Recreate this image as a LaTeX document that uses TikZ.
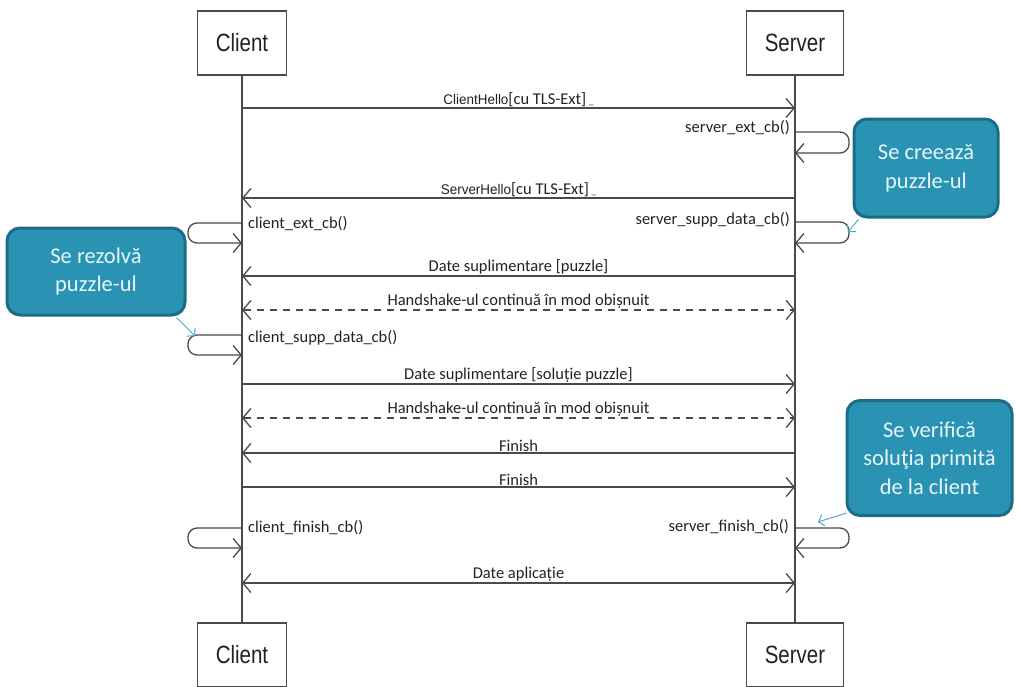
\documentclass[tikz,border=0pt]{standalone}
\usepackage{fontspec}
\setmainfont{Carlito}
\newfontfamily\boxfont[FakeStretch=0.82]{Liberation Sans}
\newfontfamily\hellofont[FakeStretch=0.96]{Liberation Sans}
\usetikzlibrary{arrows.meta,calc}
\definecolor{ink}{HTML}{222222}
\definecolor{wire}{HTML}{4A4A4A}
\definecolor{calfill}{HTML}{2A93B3}
\definecolor{caledge}{HTML}{1D6C86}
\definecolor{caltext}{HTML}{E6F6FA}
\definecolor{calarrow}{HTML}{4FAACA}
\tikzset{
  barb/.tip={Straight Barb[length=8pt,width=19pt]},
  actor/.style={draw=wire, line width=1.2pt, fill=white, minimum height=64pt,
    inner sep=0pt, text=ink, font=\boxfont\fontsize{25}{25}\selectfont},
  lifeline/.style={draw=wire, line width=1.1pt},
  msg/.style={draw=wire, line width=1.3pt, -barb},
  dmsg/.style={draw=wire, line width=1.3pt, barb-barb, dash pattern=on 7pt off 6pt},
  selfcall/.style={draw=wire, line width=1.3pt, rounded corners=9pt, -barb},
  lbl/.style={anchor=south, inner sep=1pt, text=ink, font=\fontsize{16.5}{19}\selectfont},
  cbl/.style={inner sep=0pt, text=ink, font=\fontsize{16.5}{19}\selectfont},
  callout/.style={draw=caledge, fill=calfill, line width=3pt, rounded corners=13pt,
    text=caltext, align=center, inner sep=0pt, font=\fontsize{22.5}{28.5}\selectfont},
  calarr/.style={draw=calarrow, line width=1pt, -{Straight Barb[length=5pt,width=12pt]}}
}
\newcommand{\hellopart}[1]{{\hellofont\fontsize{14}{16}\selectfont #1}}
\newcommand{\tailmark}{\,{\fontsize{9}{9}\selectfont\_}}
\begin{document}
\begin{tikzpicture}[x=1pt,y=-1pt]
\fill[white] (0,0) rectangle (1017,686);
\useasboundingbox (0,0) rectangle (1017,686);

% participants
\node[actor, minimum width=89pt] (ctop) at (242,43) {Client};
\node[actor, minimum width=97pt] (stop) at (795,43) {Server};
\node[actor, minimum width=89pt] (cbot) at (242,655) {Client};
\node[actor, minimum width=97pt] (sbot) at (795,655) {Server};
\draw[lifeline] (ctop.south) -- (cbot.north);
\draw[lifeline] (stop.south) -- (sbot.north);

% anchor points on the lifelines
\foreach \n/\y in {1/108, 3/198, 5/276, 6/310, 8/384, 9/418, 10/453, 11/487, 13/583,
                   ca/223, cb/243, da/335, db/355, fa/528, fb/548}
  \coordinate (c\n) at (242,\y);
\foreach \n/\y in {1/108, 3/198, 5/276, 6/310, 8/384, 9/418, 10/453, 11/487, 13/583,
                   ea/132, eb/153, sa/222, sb/243, fa/528, fb/548}
  \coordinate (s\n) at (795,\y);

% messages
\draw[msg] (c1) -- node[lbl] (m1) {\hellopart{ClientHello}[cu TLS-Ext]\tailmark} (s1);
\draw[msg] (s3) -- node[lbl] (m3) {\hellopart{ServerHello}[cu TLS-Ext]\tailmark} (c3);
\draw[msg] (s5) -- node[lbl] (m5) {Date suplimentare [puzzle]} (c5);
\draw[dmsg] (c6) -- node[lbl] (m6) {Handshake-ul continuă în mod obișnuit} (s6);
\draw[msg] (c8) -- node[lbl] (m8) {Date suplimentare [soluție puzzle]} (s8);
\draw[dmsg] (c9) -- node[lbl] (m9) {Handshake-ul continuă în mod obișnuit} (s9);
\draw[msg] (s10) -- node[lbl] (m10) {Finish} (c10);
\draw[msg] (c11) -- node[lbl] (m11) {Finish} (s11);
\draw[dmsg, dash pattern=] (c13) -- node[lbl] (m13) {Date aplicație} (s13);

% callbacks on the server side
\draw[selfcall] (sea) -- ++(54,0) |- (seb);
\node[cbl, anchor=east] (k1) at (790,128) {server\_ext\_cb()};
\draw[selfcall] (ssa) -- ++(54,0) |- (ssb);
\node[cbl, anchor=east] (k2) at (790,220) {server\_supp\_data\_cb()};
\draw[selfcall] (sfa) -- ++(54,0) |- (sfb);
\node[cbl, anchor=east] (k3) at (789,527) {server\_finish\_cb()};

% callbacks on the client side
\draw[selfcall] (cca) -- ++(-54,0) |- (ccb);
\node[cbl, anchor=west] (k4) at (248,224) {client\_ext\_cb()};
\draw[selfcall] (cda) -- ++(-54,0) |- (cdb);
\node[cbl, anchor=west] (k5) at (248,338) {client\_supp\_data\_cb()};
\draw[selfcall] (cfa) -- ++(-54,0) |- (cfb);
\node[cbl, anchor=west] (k6) at (248,528) {client\_finish\_cb()};

% notes
\node[callout, minimum width=144pt, minimum height=98pt] (cre) at (926,168)
  {Se creează\\puzzle-ul};
\node[callout, minimum width=178pt, minimum height=87pt] (rez) at (96,271.5)
  {Se rezolvă\\puzzle-ul};
\node[callout, minimum width=165pt, minimum height=115pt] (ver) at (929.5,458)
  {Se verifică\\soluţia primită\\de la client};

\coordinate (p1) at (848,232);
\coordinate (p2) at (195,336);
\coordinate (p3) at (818,522);
\draw[calarr] ($(cre.south west)+(6,1)$) -- (p1);
\draw[calarr] ($(rez.south east)+(-10,1)$) -- (p2);
\draw[calarr] ($(ver.south west)+(1,-4)$) -- (p3);
\end{tikzpicture}
\end{document}
